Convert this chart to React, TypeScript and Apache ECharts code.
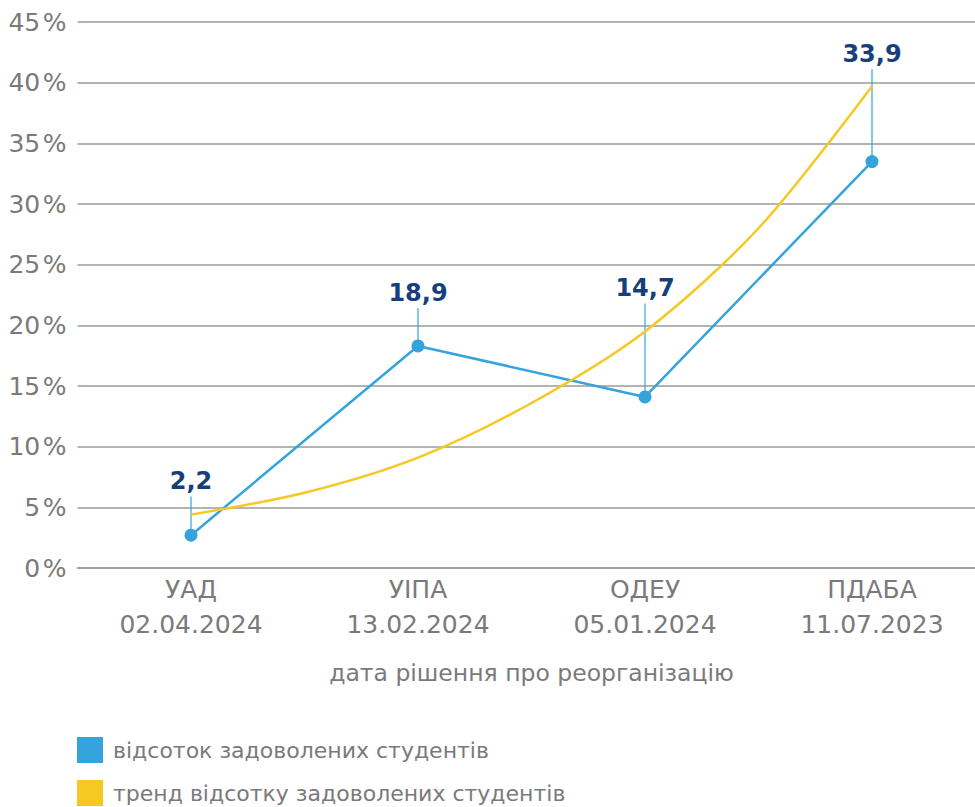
import React, { useEffect, useRef } from "react";
import * as echarts from "echarts";

const categories = ["УАД\n02.04.2024", "УІПА\n13.02.2024", "ОДЕУ\n05.01.2024", "ПДАБА\n11.07.2023"];
const satisfied = [2.7, 18.3, 14.1, 33.5];
const labelTexts = ["2,2", "18,9", "14,7", "33,9"];
const labelLevels = [5.9, 21.4, 21.8, 41.1];
// trend curve at half-category steps
const trendX = [0, 0.5, 1, 1.5, 2, 2.5, 3];
const trendY = [4.4, 6.2, 9.1, 13.6, 19.5, 28.0, 39.7];
const yTicks = { min: 0, max: 45, interval: 5 };
const seriesNames = ["відсоток задоволених студентів", "тренд відсотку задоволених студентів"];
const axisName = "дата рішення про реорганізацію";

const BLUE = "#35a3dc";
const YELLOW = "#f5c922";
const DARK = "#173f7c";
const GREY = "#7a7a7a";
const FONT = "DejaVu Sans";

export default function App() {
  const ref = useRef<HTMLDivElement>(null);
  useEffect(() => {
    if (!ref.current) return;
    const chart = echarts.init(ref.current, undefined, { renderer: "svg" });
    const leaderData = satisfied.map((v, i) => [i, v, labelLevels[i]]);
    const trendData = trendX.map((x, i) => [x, trendY[i]]);
    chart.setOption({
      animation: false,
      textStyle: { fontFamily: FONT },
      grid: {
        left: 77.5,
        width: 908,
        top: 22,
        bottom: 239,
        containLabel: false,
        outerBoundsMode: "none",
      },
      legend: {
        orient: "vertical",
        left: 77,
        top: 737,
        padding: 0,
        itemWidth: 26,
        itemHeight: 26,
        itemGap: 17,
        icon: "rect",
        data: seriesNames,
        textStyle: { color: GREY, fontSize: 22, fontFamily: FONT, padding: [0, 0, 0, 5] },
      },
      xAxis: [
        {
          type: "category",
          data: categories,
          boundaryGap: true,
          name: axisName,
          nameLocation: "middle",
          nameGap: 93,
          nameTextStyle: { color: GREY, fontSize: 23.5, fontFamily: FONT },
          axisLine: { show: true, lineStyle: { color: "#9a9a9a", width: 1.5 } },
          axisTick: { show: false },
          axisLabel: {
            color: GREY,
            fontSize: 25,
            lineHeight: 35,
            margin: 4,
            fontFamily: FONT,
            verticalAlign: "top",
          },
        },
        {
          type: "value",
          min: -0.5,
          max: 3.5,
          show: false,
          splitLine: { show: false },
        },
      ],
      yAxis: {
        type: "value",
        min: yTicks.min,
        max: yTicks.max,
        interval: yTicks.interval,
        axisLine: { show: false },
        axisTick: { show: false },
        splitLine: { lineStyle: { color: "#9a9a9a", width: 1.5 } },
        axisLabel: {
          color: GREY,
          fontSize: 25,
          margin: 11,
          fontFamily: FONT,
          formatter: (v: number) => `${v}\u200A%`,
        },
      },
      series: [
        {
          type: "custom",
          name: "leaders",
          z: 1,
          data: leaderData,
          renderItem: (params: any, api: any) => {
            const i = api.value(0);
            const p1 = api.coord([i, api.value(1)]);
            const p2 = api.coord([i, api.value(2)]);
            return {
              type: "group",
              children: [
                {
                  type: "line",
                  shape: { x1: p1[0], y1: p1[1], x2: p2[0], y2: p2[1] },
                  style: { stroke: BLUE, lineWidth: 1.2 },
                },
                {
                  type: "text",
                  x: p2[0],
                  y: p2[1] - 3,
                  style: {
                    text: labelTexts[params.dataIndex],
                    fill: DARK,
                    font: `bold 24px "${FONT}"`,
                    align: "center",
                    verticalAlign: "bottom",
                  },
                },
              ],
            };
          },
        },
        {
          type: "line",
          name: seriesNames[0],
          data: satisfied,
          z: 3,
          symbol: "circle",
          symbolSize: 13,
          lineStyle: { color: BLUE, width: 2.5 },
          itemStyle: { color: BLUE },
          label: { show: false },
        },
        {
          type: "line",
          name: seriesNames[1],
          xAxisIndex: 1,
          data: trendData,
          z: 4,
          smooth: 0.3,
          symbol: "none",
          lineStyle: { color: YELLOW, width: 2.5 },
          itemStyle: { color: YELLOW },
        },
      ],
    });
    return () => chart.dispose();
  }, []);
  return (
    <div
      ref={ref}
      style={{ position: "absolute", left: 0, top: 0, width: 975, height: 807 }}
    />
  );
}
